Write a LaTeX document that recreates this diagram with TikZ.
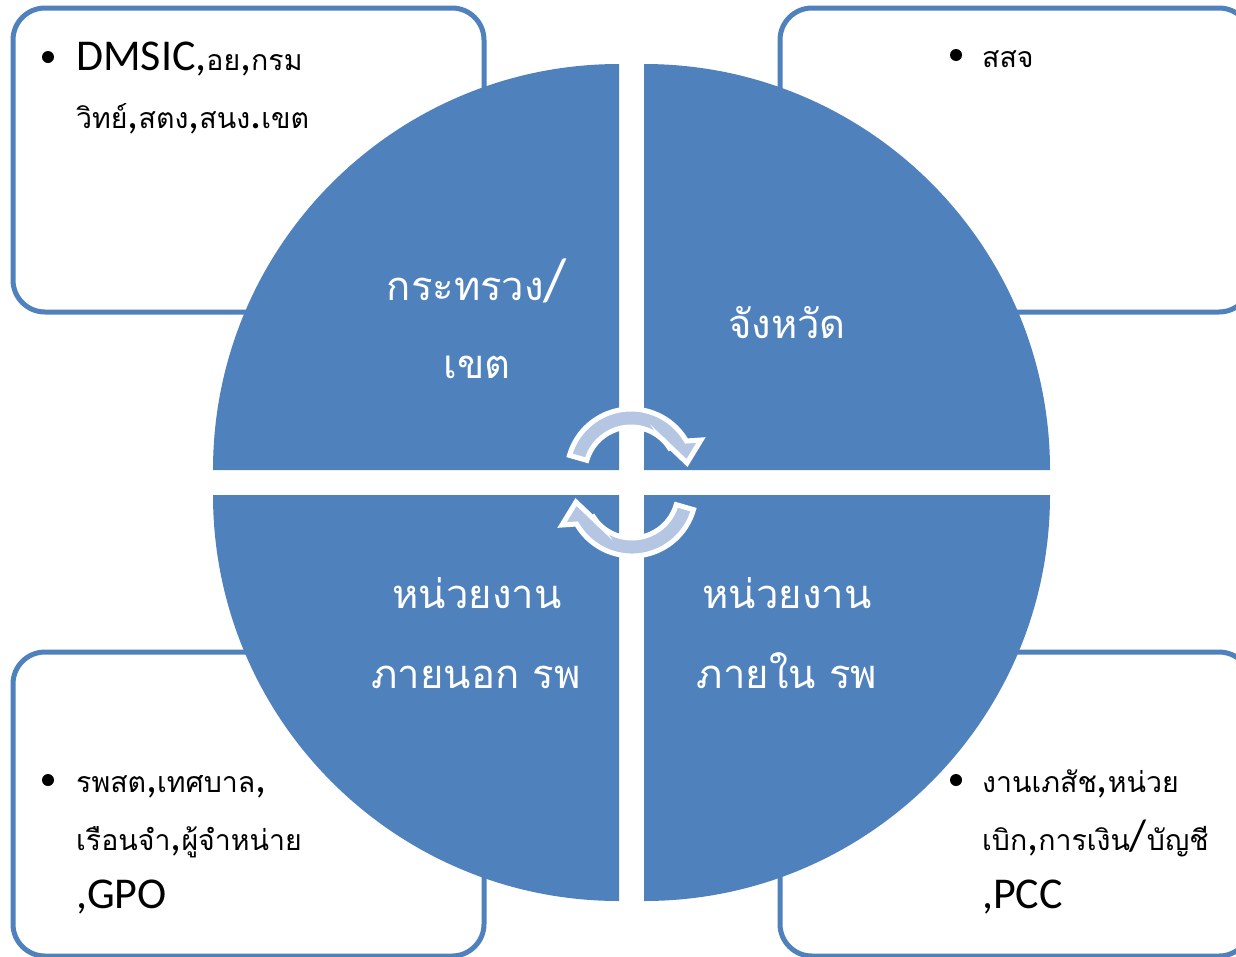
\documentclass[tikz,border=0pt]{standalone}
\usepackage{fontspec}
\setmainfont{Carlito}
\newfontfamily\thaifont[Script=Thai]{Loma}
\newcommand\thaiS[1]{{\thaifont\fontsize{28.5}{34}\selectfont #1}}
\newcommand\thaiL[1]{{\thaifont\fontsize{40}{48}\selectfont #1}}
\definecolor{qblue}{HTML}{4F81BD}
\definecolor{arrowfill}{HTML}{B5C6E2}
\begin{document}
\begin{tikzpicture}[x=1pt,y=-1pt,
  quad/.style={fill=qblue},
  infobox/.style={draw=qblue, line width=5pt, fill=white, rounded corners=32pt},
  bul/.style={circle, fill=black, inner sep=0pt, minimum size=12pt},
  btext/.style={anchor=base west, inner sep=0pt, font=\fontsize{44}{50}\selectfont},
  wtext/.style={anchor=base, inner sep=0pt, text=white, font=\fontsize{60}{60}\selectfont},
  cyc/.style={fill=arrowfill, draw=white, line width=5pt, line join=miter}
]
\useasboundingbox (0,0) rectangle (1236,956);
\clip (0,0) rectangle (1236,956);
\fill[white] (0,0) rectangle (1236,956);

% corner boxes
\path[infobox] (13,8) rectangle (484,312);
\path[infobox] (780,8) rectangle (1251,312);
\path[infobox] (13,652) rectangle (484,956);
\path[infobox] (780,652) rectangle (1251,956);

% quadrants
\path[quad] (619,470) -- (213,470) arc[start angle=180, end angle=270, radius=406] -- cycle;
\path[quad] (644,470) -- (644,64) arc[start angle=270, end angle=360, radius=406] -- cycle;
\path[quad] (619,495) -- (619,901) arc[start angle=90, end angle=180, radius=406] -- cycle;
\path[quad] (644,495) -- (1050,495) arc[start angle=0, end angle=90, radius=406] -- cycle;

% cycle arrows
\begin{scope}[shift={(631,473)}]
\path[cyc] (196:64) arc[start angle=196, end angle=330, radius=64] -- (70,-33) -- (56,-10) -- (35,-30) -- (330:46) arc[start angle=330, end angle=196, radius=46] -- cycle;
\end{scope}
\begin{scope}[rotate around={180:(631.5,482.5)}, shift={(631,473)}]
\path[cyc] (196:64) arc[start angle=196, end angle=330, radius=64] -- (70,-33) -- (56,-10) -- (35,-30) -- (330:46) arc[start angle=330, end angle=196, radius=46] -- cycle;
\end{scope}

% quadrant labels
\node[wtext] (q1a) at (477,300) {\thaiL{กระทรวง}/};
\node[wtext] (q1b) at (477,378) {\thaiL{เขต}};
\node[wtext] (q2a) at (787,338) {\thaiL{จังหวัด}};
\node[wtext] (q3a) at (477,608) {\thaiL{หน่วยงาน}};
\node[wtext] (q3b) at (476,688) {\thaiL{ภายนอก รพ}};
\node[wtext] (q4a) at (787,608) {\thaiL{หน่วยงาน}};
\node[wtext] (q4b) at (787,688) {\thaiL{ภายใน รพ}};

% box texts
\node[bul] (b1) at (48,57) {};
\node[btext] (t1a) at (76,70) {DMSIC,\thaiS{อย},\thaiS{กรม}};
\node[btext] (t1b) at (76,128) {\thaiS{วิทย์},\thaiS{สตง},\thaiS{สนง}.\thaiS{เขต}};

\node[bul] (b2) at (956,55) {};
\node[btext] (t2a) at (982,67) {\thaiS{สสจ}};

\node[bul] (b3) at (48,780) {};
\node[btext] (t3a) at (76,792) {\thaiS{รพสต},\thaiS{เทศบาล},};
\node[btext] (t3b) at (76,850) {\thaiS{เรือนจำ},\thaiS{ผู้จำหน่าย}};
\node[btext] (t3c) at (76,908) {,GPO};

\node[bul] (b4) at (956,780) {};
\node[btext] (t4a) at (982,792) {\thaiS{งานเภสัช},\thaiS{หน่วย}};
\node[btext] (t4b) at (982,850) {\thaiS{เบิก},\thaiS{การเงิน}/\thaiS{บัญชี}};
\node[btext] (t4c) at (982,908) {,PCC};
\end{tikzpicture}
\end{document}
